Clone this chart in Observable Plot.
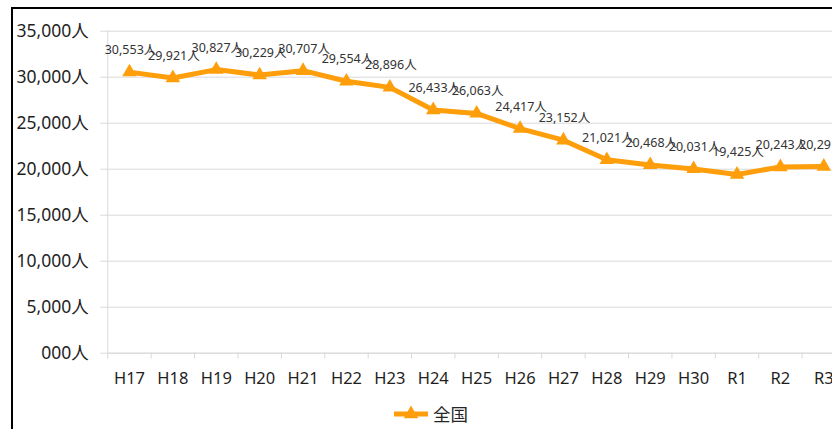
<!DOCTYPE html>
<html>
<head>
<meta charset="utf-8">
<script src="https://cdn.jsdelivr.net/npm/d3@7"></script>
<script src="https://cdn.jsdelivr.net/npm/@observablehq/plot@0.6"></script>
<style>
  html, body { margin: 0; padding: 0; background: #fff; width: 832px; height: 429px; overflow: hidden; }
  #wrap { position: relative; width: 832px; height: 429px; }
  #frame { position: absolute; left: 11px; top: 7px; width: 900px; height: 500px; border-left: 2px solid #000; border-top: 2px solid #000; pointer-events: none; }
  #chart { position: absolute; left: 0; top: 0; }
  #legend { position: absolute; left: 393px; top: 400px; display: flex; align-items: center; font-family: "Noto Sans CJK JP", sans-serif; font-size: 17.5px; color: #262626; }
  #legend svg { margin-right: 2px; }
</style>
</head>
<body>
<div id="wrap">
  <div id="chart"></div>
  <div id="frame"></div>
  <div id="legend"></div>
</div>
<script>
const years = ["H17","H18","H19","H20","H21","H22","H23","H24","H25","H26","H27","H28","H29","H30","R1","R2","R3"];
const values = [30553, 29921, 30827, 30229, 30707, 29554, 28896, 26433, 26063, 24417, 23152, 21021, 20468, 20031, 19425, 20243, 20291];
const yTicks = [0, 5000, 10000, 15000, 20000, 25000, 30000, 35000];
const yTickLabels = ["000人","5,000人","10,000人","15,000人","20,000人","25,000人","30,000人","35,000人"];
const seriesName = "全国";
const color = "#FF9E0B";

const data = years.map((y, i) => ({i, year: y, value: values[i]}));
const idx = years.map((_, i) => i);
const bounds = years.map((_, i) => i - 0.5).concat([years.length - 0.5]);
const fontFam = "'Noto Sans', 'Noto Sans CJK JP', sans-serif";

const chart = Plot.plot({
  width: 832,
  height: 395,
  marginTop: 30.7,
  marginBottom: 42.3,
  marginLeft: 107.3,
  marginRight: 0,
  style: {fontFamily: fontFam, background: "transparent", overflow: "hidden"},
  x: {type: "linear", domain: [-0.5, years.length - 0.5], range: [107.3, 845]},
  y: {domain: [0, 35000], range: [352.7, 30.7]},
  marks: [
    Plot.gridY(yTicks, {stroke: "#d9d9d9", strokeOpacity: 1, strokeWidth: 1}),
    Plot.ruleX([-0.5], {stroke: "#d9d9d9", y1: 0, y2: 35000}),
    Plot.ruleY([0], {stroke: "#d9d9d9"}),
    Plot.axisY({ticks: yTicks, tickSize: 7, tickPadding: 12, stroke: "#d9d9d9", tickFormat: d => yTickLabels[yTicks.indexOf(d)], fontSize: 17.5, fill: "#1f1f1f", label: null}),
    Plot.axisX({ticks: bounds, tickSize: 6, tickFormat: () => "", stroke: "#d9d9d9", label: null}),
    Plot.axisX({ticks: idx, tickSize: 0, tickPadding: 19, tickFormat: i => years[i], fontSize: 16.5, fill: "#1f1f1f", label: null}),
    Plot.line(data, {x: "i", y: "value", stroke: color, strokeWidth: 5, strokeLinejoin: "round"}),
    Plot.dot(data, {x: "i", y: "value", symbol: "triangle", r: 5.4, fill: color, stroke: null}),
    Plot.text(data, {x: "i", y: "value", text: d => d3.format(",")(d.value) + "人", dy: -22, dx: 1, fontSize: 12.5, fill: "#333333"})
  ]
});
document.getElementById("chart").appendChild(chart);

// legend
const leg = document.getElementById("legend");
const ns = "http://www.w3.org/2000/svg";
const ls = document.createElementNS(ns, "svg");
ls.setAttribute("width", 38); ls.setAttribute("height", 26);
const ln = document.createElementNS(ns, "line");
ln.setAttribute("x1", 1); ln.setAttribute("x2", 35); ln.setAttribute("y1", 14); ln.setAttribute("y2", 14);
ln.setAttribute("stroke", color); ln.setAttribute("stroke-width", 5);
ls.appendChild(ln);
const tri = document.createElementNS(ns, "path");
tri.setAttribute("d", d3.symbol(d3.symbolTriangle, Math.PI * 5.4 * 5.4)());
tri.setAttribute("transform", "translate(18,14)");
tri.setAttribute("fill", color);
ls.appendChild(tri);
leg.appendChild(ls);
const sp = document.createElement("span");
sp.textContent = seriesName;
leg.appendChild(sp);
</script>
</body>
</html>
